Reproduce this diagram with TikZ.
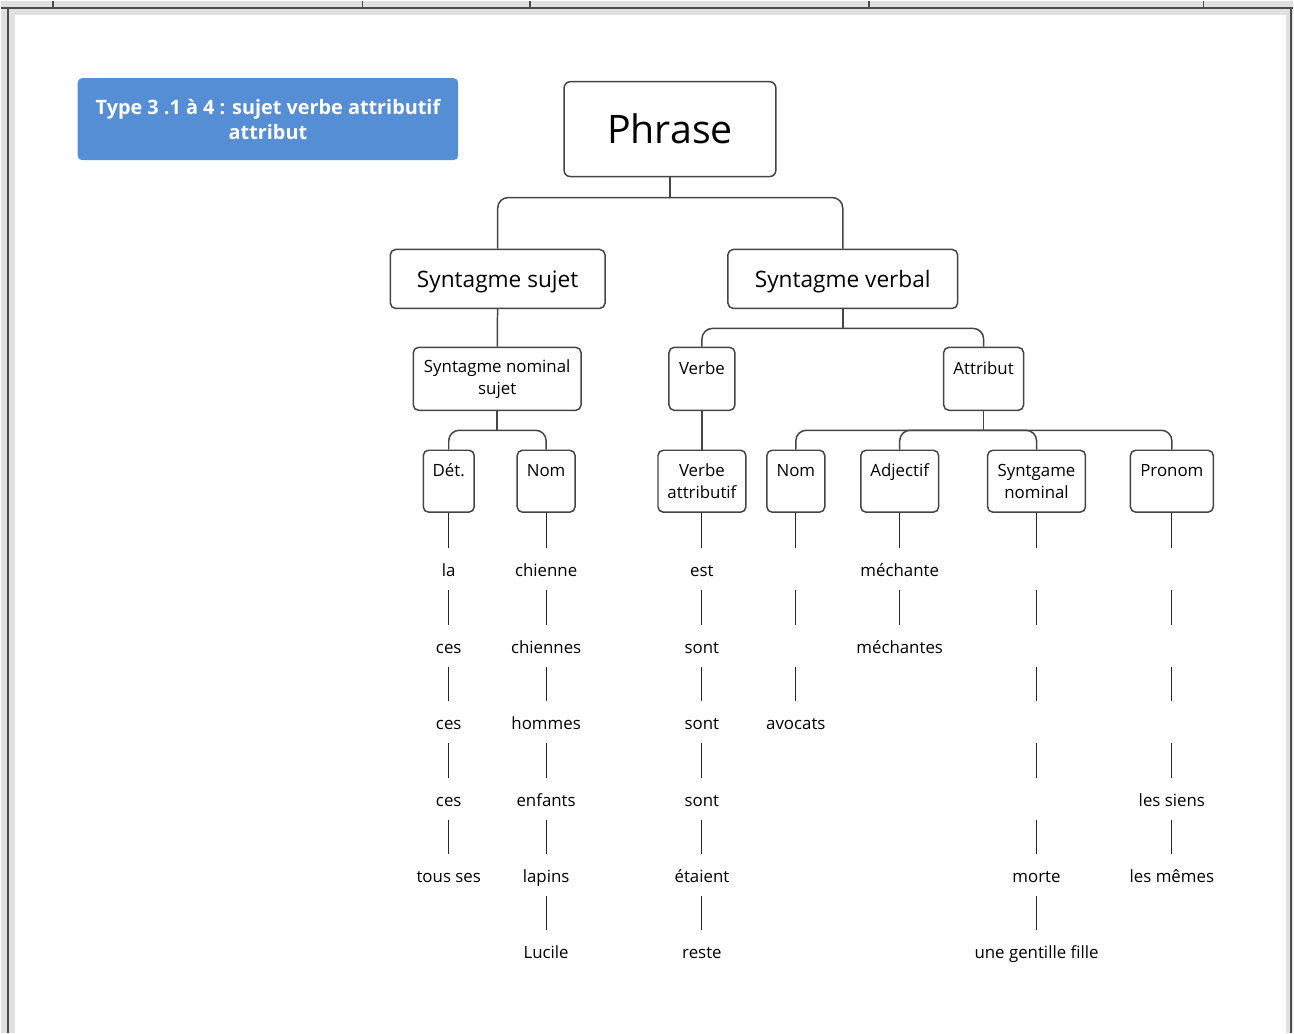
\documentclass[tikz,border=0pt]{standalone}
\usepackage{fontspec}
\setmainfont{Open Sans}
\definecolor{titleblue}{HTML}{558ED5}
\definecolor{boxline}{HTML}{454545}
\definecolor{pagegray}{HTML}{E0E0E0}
\begin{document}
\begin{tikzpicture}[x=0.02cm,y=-0.02cm,
  box/.style={draw=boxline,line width=0.85pt,rounded corners=3pt,align=center,inner sep=0pt,font=\fontsize{9.6}{12.5}\selectfont},
  bigbox/.style={box,text depth=0pt,font=\fontsize{12.9}{15}\selectfont},
  word/.style={minimum height=0.82cm,inner sep=0pt,text height=1.75ex,text depth=0.15ex,font=\fontsize{9.6}{12}\selectfont},
  link/.style={draw=boxline,line width=0.85pt,rounded corners=6pt},
  stem/.style={draw=black!85,line width=0.55pt}]
                \fill[pagegray](0,0)rectangle(1294,1033);
                \fill[white](14,14)rectangle(1287,1033);
                \draw[black!70,line width=0.9pt](0,7)--(1294,7)(7,7)--(7,1033)(1292,7)--(1292,1033);
                \foreach \x in {52,362,530,869,1204}
                    \draw[black!70,line width=0.9pt](\x,0)--(\x,7);
                \node[fill=titleblue,rounded corners=2.5pt,minimum width=7.62cm,minimum height=1.64cm,inner sep=0pt,align=center,text=white,font=\fontsize{11.3}{14.2}\selectfont\bfseries](Title)at(267.5, 118.5){Type 3 .1 à 4 : sujet verbe attributif\\attribut};
                \node[box,rounded corners=3.5pt,minimum width=4.24cm,minimum height=1.9cm,font=\fontsize{22.4}{26}\selectfont](Phrase)at(670, 128.5){Phrase};
                \node[bigbox,minimum width=4.3cm,minimum height=1.18cm](SS)at(497.5, 278.5){Syntagme sujet};
                \node[bigbox,minimum width=4.6cm,minimum height=1.18cm](SV)at(843, 278.5){Syntagme verbal};
                \node[box,minimum width=3.36cm,minimum height=1.26cm](SNS)at(497, 378.5){Syntagme nominal\\sujet};
                \node[box,minimum width=1.32cm,minimum height=1.26cm](Verbe)at(702, 378.5){Verbe\\~};
                \node[box,minimum width=1.6cm,minimum height=1.26cm](Attr)at(984, 378.5){Attribut\\~};
                \node[box,minimum width=1.02cm,minimum height=1.24cm](Det)at(448.5, 481){Dét.\\~};
                \node[box,minimum width=1.16cm,minimum height=1.24cm](Nom)at(546, 481){Nom\\~};
                \node[box,minimum width=1.76cm,minimum height=1.24cm](VA)at(702, 481){Verbe\\attributif};
                \node[box,minimum width=1.16cm,minimum height=1.24cm](NomA)at(796, 481){Nom\\~};
                \node[box,minimum width=1.56cm,minimum height=1.24cm](Adj)at(900, 481){Adjectif\\~};
                \node[box,minimum width=1.96cm,minimum height=1.24cm](SN)at(1037, 481){Syntgame\\nominal};
                \node[box,minimum width=1.66cm,minimum height=1.24cm](Pron)at(1172.5, 481){Pronom\\~};
                \coordinate(jP)at(670, 197);
                \coordinate(jSV)at(843, 328);
                \coordinate(jSNS)at(497, 430);
                \coordinate(jA)at(984, 430);
                \draw[link](Phrase)--(jP);
                \draw[link](jP)-|(SS);
                \draw[link](jP)-|(SV);
                \draw[link](SS)--(SNS);
                \draw[link](SV)--(jSV);
                \draw[link](jSV)-|(Verbe);
                \draw[link](jSV)-|(Attr);
                \draw[link](SNS)--(jSNS);
                \draw[link](jSNS)-|(Det);
                \draw[link](jSNS)-|(Nom);
                \draw[link](Verbe)--(VA);
                \draw[link](Attr)--(jA);
                \draw[link](jA)-|(NomA);
                \draw[link](jA)-|(Adj);
                \draw[link](jA)-|(SN);
                \draw[link](jA)-|(Pron);
                \node[word](d1)at(448.5, 569){la};
                \node[word](d2)at(448.5, 646){ces};
                \node[word](d3)at(448.5, 722){ces};
                \node[word](d4)at(448.5, 799){ces};
                \node[word](d5)at(448.5, 875){tous ses};
                \node[word](n1)at(546, 569){chienne};
                \node[word](n2)at(546, 646){chiennes};
                \node[word](n3)at(546, 722){hommes};
                \node[word](n4)at(546, 799){enfants};
                \node[word](n5)at(546, 875){lapins};
                \node[word](n6)at(546, 951){Lucile};
                \node[word](v1)at(702, 569){est};
                \node[word](v2)at(702, 646){sont};
                \node[word](v3)at(702, 722){sont};
                \node[word](v4)at(702, 799){sont};
                \node[word](v5)at(702, 875){étaient};
                \node[word](v6)at(702, 951){reste};
                \node[word](a1)at(796, 569){};
                \node[word](a2)at(796, 646){};
                \node[word](a3)at(796, 722){avocats};
                \node[word](j1)at(900, 569){méchante};
                \node[word](j2)at(900, 646){méchantes};
                \node[word](s1)at(1037, 569){};
                \node[word](s2)at(1037, 646){};
                \node[word](s3)at(1037, 722){};
                \node[word](s4)at(1037, 799){};
                \node[word](s5)at(1037, 875){morte};
                \node[word](s6)at(1037, 951){une gentille fille};
                \node[word](p1)at(1172.5, 569){};
                \node[word](p2)at(1172.5, 646){};
                \node[word](p3)at(1172.5, 722){};
                \node[word](p4)at(1172.5, 799){les siens};
                \node[word](p5)at(1172.5, 875){les mêmes};
                \path[stem](Det) edge (d1)
                (d1) edge (d2) (d2) edge (d3) (d3) edge (d4) (d4) edge (d5)
                (Nom) edge (n1)
                (n1) edge (n2) (n2) edge (n3) (n3) edge (n4) (n4) edge (n5) (n5) edge (n6)
                (VA) edge (v1)
                (v1) edge (v2) (v2) edge (v3) (v3) edge (v4) (v4) edge (v5) (v5) edge (v6)
                (NomA) edge (a1)
                (a1) edge (a2) (a2) edge (a3)
                (Adj) edge (j1)
                (j1) edge (j2)
                (SN) edge (s1)
                (s1) edge (s2) (s2) edge (s3) (s3) edge (s4) (s4) edge (s5) (s5) edge (s6)
                (Pron) edge (p1)
                (p1) edge (p2) (p2) edge (p3) (p3) edge (p4) (p4) edge (p5);
            \end{tikzpicture}
\end{document}
